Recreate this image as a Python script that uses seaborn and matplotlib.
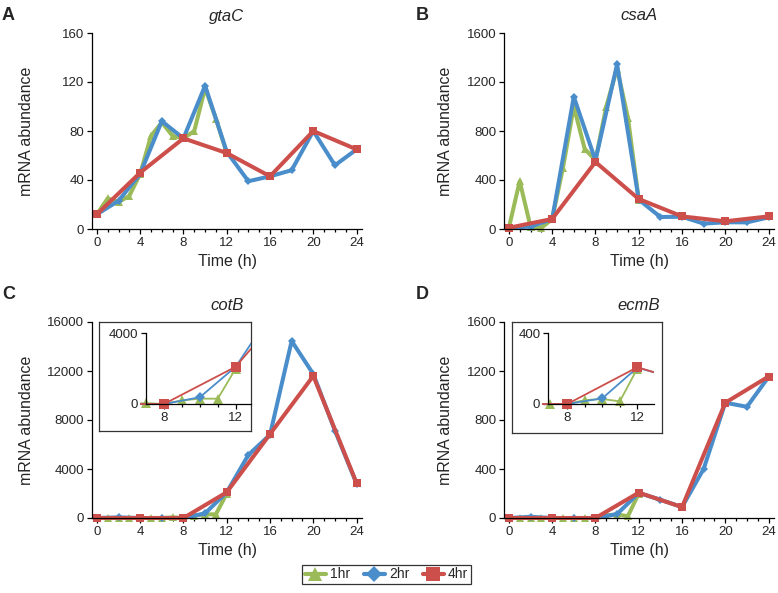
import matplotlib
matplotlib.use("Agg")
import matplotlib.pyplot as plt
import seaborn as sns
import pandas as pd
from matplotlib.lines import Line2D
from matplotlib.patches import Rectangle
from matplotlib.ticker import MultipleLocator, FixedLocator

# sampling times
t1 = list(range(0, 13))          # 1hr, 0-12 h
t2 = list(range(0, 25, 2))       # 2hr
t4 = list(range(0, 25, 4))       # 4hr

# gtaC
gtac_1 = [12, 25, 22, 27, 45, 76, 87, 76, 74, 80, 115, 90, 62]
gtac_2 = [12, 23, 45, 88, 74, 117, 63, 39, 43, 48, 80, 52, 65]
gtac_4 = [12, 46, 74, 62, 43, 80, 65]

# csaA
csaa_1 = [10, 390, 20, 10, 80, 500, 1000, 656, 560, 1000, 1310, 910, 240]
csaa_2 = [10, 20, 80, 1080, 560, 1345, 240, 98, 100, 44, 55, 54, 95]
csaa_4 = [10, 82, 547, 245, 103, 63, 103]

# cotB
cotb_1 = [0, 0, 0, 0, 0, 0, 0, 50, 0, 200, 300, 300, 2000]
cotb_2 = [0, 50, 0, 0, 0, 380, 2100, 5150, 6800, 14450, 11750, 7130, 2800]
cotb_4 = [0, 0, 0, 2100, 6850, 11600, 2850]

# ecmB
ecmb_1 = [0, 0, 0, 0, 0, 0, 0, 0, 0, 22, 28, 15, 200]
ecmb_2 = [0, 10, 0, 0, 0, 32, 205, 149, 89, 401, 941, 908, 1152]
ecmb_4 = [0, 0, 0, 207, 89, 941, 1155]

series = ["1hr", "2hr", "4hr"]
colors = {"1hr": "#9BBB59", "2hr": "#4A8DCB", "4hr": "#CD4F4B"}
markers = {"1hr": "^", "2hr": "D", "4hr": "s"}


def long_df(v1, v2, v4):
    parts = []
    for name, t, v in zip(series, [t1, t2, t4], [v1, v2, v4]):
        parts.append(pd.DataFrame({"time": t, "value": v, "series": name}))
    return pd.concat(parts, ignore_index=True)


panels = [
    ("A", "gtaC", long_df(gtac_1, gtac_2, gtac_4), 160, 40),
    ("B", "csaA", long_df(csaa_1, csaa_2, csaa_4), 1600, 400),
    ("C", "cotB", long_df(cotb_1, cotb_2, cotb_4), 16000, 4000),
    ("D", "ecmB", long_df(ecmb_1, ecmb_2, ecmb_4), 1600, 400),
]

sns.set_style("ticks")
plt.rcParams["font.family"] = ["Liberation Sans", "DejaVu Sans"]

W, H = 778, 593
fig = plt.figure(figsize=(W / 100, H / 100), dpi=100)


def px_axes(x0, y0, x1, y1, **kw):
    return fig.add_axes([x0 / W, 1 - y1 / H, (x1 - x0) / W, (y1 - y0) / H], **kw)


def style_axes(ax, fs=9.5):
    sns.despine(ax=ax)
    for s in ["left", "bottom"]:
        ax.spines[s].set_linewidth(0.9)
        ax.spines[s].set_color("black")
    ax.tick_params(axis="both", which="major", direction="out", length=3.5, width=0.9,
                   labelsize=fs, pad=2, color="black")
    ax.tick_params(axis="x", which="minor", direction="out", length=2.5, width=0.9, color="black")


def draw(ax, df, lw, ms):
    for name in series:
        sub = df[df["series"] == name]
        sns.lineplot(data=sub, x="time", y="value", ax=ax, color=colors[name],
                     marker=markers[name], markersize=ms[name], markeredgewidth=0,
                     linewidth=lw, legend=False, errorbar=None)


main_boxes = {
    "A": (92, 33, 362, 229),
    "B": (504, 33, 774, 229),
    "C": (92, 322, 362, 518),
    "D": (504, 322, 774, 518),
}

for letter, gene, df, ymax, ystep in panels:
    x0, y0, x1, y1 = main_boxes[letter]
    ax = px_axes(x0, y0, x1, y1)
    draw(ax, df, 2.9, {"1hr": 5.5, "2hr": 4, "4hr": 5.5})
    for ln in ax.lines:
        ln.set_clip_on(False)
    ax.set_xlim(-0.45, 24.5)
    ax.set_ylim(0, ymax)
    ax.xaxis.set_major_locator(MultipleLocator(4))
    ax.xaxis.set_minor_locator(MultipleLocator(1))
    ax.yaxis.set_major_locator(MultipleLocator(ystep))
    style_axes(ax)
    ax.set_xlabel("Time (h)", fontsize=11.5, labelpad=4)
    ax.set_ylabel("mRNA abundance", fontsize=11.5)
    off = 58 if letter in "AC" else 51
    ax.yaxis.set_label_coords(-off / (x1 - x0), 0.5)
    ax.set_title(gene, fontsize=12, style="italic", pad=9)
    lx = 2 if letter in "AC" else 416
    ly = 15 if letter in "AB" else 295
    fig.text(lx / W, 1 - ly / H, letter, fontsize=13, fontweight="bold", va="center", ha="left")

# insets for cotB and ecmB
insets = [
    (panels[2][2], (99, 322, 251, 431), (146, 333, 251, 404), (7.0, 12.85), 4000),
    (panels[3][2], (512, 322, 662, 433), (548, 333, 654, 404), (6.9, 12.95), 400),
]
for df, frame, inner, xlim, ytop in insets:
    fr = px_axes(*frame)
    fr.set_xticks([])
    fr.set_yticks([])
    for s in fr.spines.values():
        s.set_visible(True)
        s.set_linewidth(0.9)
        s.set_color("#333333")
    fr.patch.set_facecolor("white")
    ia = px_axes(*inner)
    ia.patch.set_alpha(0)
    draw(ia, df, 1.3, {"1hr": 6.5, "2hr": 5.5, "4hr": 7.5})
    ia.set_xlim(*xlim)
    ia.set_ylim(0, ytop)
    # clip at the right edge of the inset, leave room for the marker at the left edge
    clip = Rectangle((-0.06, -0.3), 1.06, 1.6, transform=ia.transAxes)
    for ln in ia.lines:
        ln.set_clip_on(True)
        ln.set_clip_path(clip)
    ia.xaxis.set_major_locator(FixedLocator([8, 12]))
    ia.xaxis.set_minor_locator(FixedLocator([7, 9, 10, 11]))
    ia.yaxis.set_major_locator(FixedLocator([0, ytop]))
    style_axes(ia)
    ia.set_xlabel("")
    ia.set_ylabel("")

handles = [Line2D([], [], color=colors[n], marker=markers[n], linewidth=3,
                  markersize=10 if n != "2hr" else 8, markeredgewidth=0, label=n)
           for n in series]
leg = fig.legend(handles=handles, loc="center", ncol=3,
                 bbox_to_anchor=(386.5 / W, 1 - 574.5 / H), frameon=True, fancybox=False,
                 fontsize=10, handlelength=1.5, handletextpad=0.3, columnspacing=1.0,
                 borderpad=0.2, edgecolor="black")
leg.get_frame().set_linewidth(0.9)

fig.savefig("out.png", dpi=100)
